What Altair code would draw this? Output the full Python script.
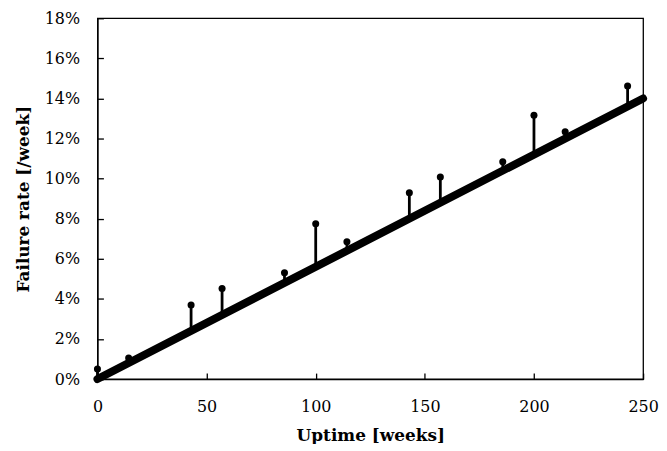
import altair as alt
import pandas as pd

# Trend line (thick)
trend_weeks = [0, 250]
trend_rate = [0.0, 14.0]

# Observed events (dots + spikes)
event_weeks = [0, 14.3, 42.9, 57.1, 85.7, 100, 114.3, 142.9, 157.1, 185.7, 200, 214.3, 242.9]
event_rate = [0.5, 1.05, 3.69, 4.52, 5.3, 7.75, 6.85, 9.3, 10.08, 10.84, 13.16, 12.34, 14.62]
event_base = [0.1, 0.8, 2.4, 3.2, 4.8, 5.6, 6.4, 8.0, 8.8, 10.4, 11.2, 12.0, 13.6]

x_ticks = [0, 50, 100, 150, 200, 250]
y_ticks = [0, 2, 4, 6, 8, 10, 12, 14, 16, 18]

FONT = "DejaVu Serif"

trend = pd.DataFrame({"week": trend_weeks, "rate": trend_rate})
events = pd.DataFrame({"week": event_weeks, "rate": event_rate, "base": event_base})

xs = alt.Scale(domain=[0, 250], nice=False)
ys = alt.Scale(domain=[0, 18], nice=False)

main = alt.Chart(trend).mark_line(color="black", strokeWidth=8, strokeCap="round").encode(
    x=alt.X("week:Q", scale=xs, axis=alt.Axis(
        orient="bottom", values=x_ticks, ticks=False, grid=False, domain=True,
        domainColor="black", domainWidth=1.3, labelFont=FONT, labelFontSize=16,
        labelColor="black", labelPadding=20, title="Uptime [weeks]", titleFont=FONT,
        titleFontSize=17, titleFontWeight="bold", titleColor="black", titlePadding=13,
        labelFlush=False)),
    y=alt.Y("rate:Q", scale=ys, axis=alt.Axis(
        orient="left", values=y_ticks, ticks=False, grid=False, domain=True,
        domainColor="black", domainWidth=1.3, labelFont=FONT, labelFontSize=16,
        labelColor="black", labelPadding=18, labelExpr="datum.value + '%'",
        title="Failure rate [/week]", titleFont=FONT, titleFontSize=17,
        titleFontWeight="bold", titleColor="black", titlePadding=12, labelFlush=False)),
)

spikes = alt.Chart(events).mark_rule(color="black", strokeWidth=2.8).encode(
    x=alt.X("week:Q", scale=xs, axis=None),
    y=alt.Y("base:Q", scale=ys, axis=None),
    y2="rate:Q",
)

dots = alt.Chart(events).mark_point(filled=True, color="black", opacity=1, size=50).encode(
    x=alt.X("week:Q", scale=xs, axis=None),
    y=alt.Y("rate:Q", scale=ys, axis=None),
)

ticks = alt.Chart(trend).mark_point(opacity=0).encode(
    x=alt.X("week:Q", scale=xs, axis=alt.Axis(
        orient="bottom", values=x_ticks, offset=-6, tickSize=6, ticks=True, tickColor="black",
        tickWidth=1.3, domain=False, labels=False, grid=False, title=None)),
    y=alt.Y("rate:Q", scale=ys, axis=alt.Axis(
        orient="left", values=y_ticks, offset=-6, tickSize=6, ticks=True, tickColor="black",
        tickWidth=1.3, domain=False, labels=False, grid=False, title=None)),
)

chart = alt.layer(main, spikes, dots, ticks).resolve_axis(
    x="independent", y="independent"
).properties(
    width=549, height=363,
    autosize=alt.AutoSizeParams(type="none"),
    padding={"left": 90, "top": 9, "right": 16, "bottom": 64},
    background="white",
).configure_view(stroke="black", strokeWidth=1.3)

chart.save("out.html", embed_options={"renderer": "svg", "actions": False})
